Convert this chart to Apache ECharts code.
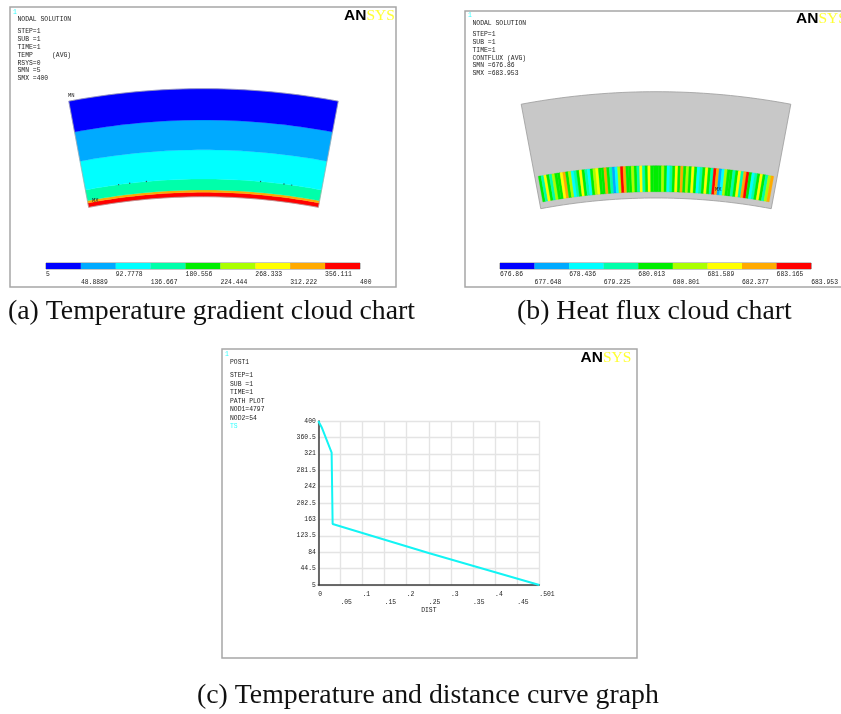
<!DOCTYPE html>
<html>
<head>
<meta charset="utf-8">
<style>
html,body{margin:0;padding:0;background:#fff;overflow:hidden}
#panels,#captions{position:absolute;left:0;top:0;width:841px;height:714px}
#panels{filter:blur(.55px)}
</style>
<script src="https://cdn.jsdelivr.net/npm/echarts@6/dist/echarts.min.js"></script>
</head>
<body>
<div id="panels"></div>
<div id="captions"></div>
<script>
// ---- shared contour palette (nine ANSYS classes)
var contourColors = ['#0000ff','#00aaff','#00ffff','#00ffaa','#00ee00','#aaff00','#ffff00','#ffaa00','#ff0000'];

// ---- panel (a): temperature bands, fraction of wall thickness (0 inner, 1 outer)
var tempBandEdges = [0, 0.041, 0.062, 0.164, 0.434, 0.71, 1];
var tempBandClass = [8, 7, 3, 2, 1, 0];
var meshDotAngles = [97.6, 96.6, 95.1, 84.9, 82.8, 82.1];
var tempLegendLabels = ['5','48.8889','92.7778','136.667','180.556','224.444','268.333','312.222','356.111','400'];
var notesA = ['NODAL SOLUTION','STEP=1','SUB =1','TIME=1','TEMP     (AVG)','RSYS=0','SMN =5','SMX =400'];

// ---- panel (b): heat flux, class of each stripe across the fan, left to right
var fluxStripeClass = [
 4,3,6,4,3,5,4,4,6,7,4,5,2,3,4,6,4,3,2,4,5,6,4,4,7,4,3,1,2,5,8,7,4,4,5,4,3,6,3,4,6,4,4,
 4,4,5,4,2,3,4,6,4,7,4,5,4,6,4,2,3,4,6,4,3,8,7,1,2,5,4,4,3,4,6,3,7,8,4,2,3,4,6,4,3,5,7];
var fluxBandRange = [0.059, 0.304];
var fluxLegendLabels = ['676.86','677.648','678.436','679.225','680.013','680.801','681.589','682.377','683.165','683.953'];
var notesB = ['NODAL SOLUTION','STEP=1','SUB =1','TIME=1','CONTFLUX (AVG)','SMN =676.86','SMX =683.953'];

// ---- panel (c): temperature along the path
var pathDist = [0, 0.0076, 0.0302, 0.0325, 0.25, 0.501];
var pathTemp = [400, 385, 324, 152, 82, 5];
var tempTicks = [5,44.5,84,123.5,163,202.5,242,281.5,321,360.5,400];
var distTicks = [0,0.0501,0.1002,0.1503,0.2004,0.2505,0.3006,0.3507,0.4008,0.4509,0.501];
var distTickLabels = ['0','.05','.1','.15','.2','.25','.3','.35','.4','.45','.501'];
var notesC = ['POST1','STEP=1','SUB =1','TIME=1','PATH PLOT','NOD1=4797','NOD2=54'];

var captions = ['(a) Temperature gradient cloud chart','(b) Heat flux cloud chart','(c) Temperature and distance curve graph'];

var ANGLE_MIN = 79.4, ANGLE_MAX = 100.6;
var MONO = '"Liberation Mono", monospace';

function arcPoints(api, r, a0, a1) {
  var pts = [], n = 40;
  for (var i = 0; i <= n; i++) pts.push(api.coord([r, a0 + (a1 - a0) * i / n]));
  return pts;
}
function fanItem(api, style) {
  var r0 = api.value(0), r1 = api.value(1), a0 = api.value(2), a1 = api.value(3);
  var outer = arcPoints(api, r1, a0, a1), inner = arcPoints(api, r0, a1, a0);
  return {type:'polygon', shape:{points: outer.concat(inner)}, style: style};
}
function renderBand(p, api) {
  return fanItem(api, {fill: contourColors[api.value(4)], stroke: contourColors[api.value(4)], lineWidth: .3});
}
function renderSolid(p, api) {
  return fanItem(api, {fill: '#c8c8c8', stroke: '#9c9c9c', lineWidth: .8});
}
function renderOutline(p, api) {
  return fanItem(api, {fill: 'none', stroke: '#a8a8a8', lineWidth: .7});
}
function renderLegend(p, api) {
  var a = api.coord([api.value(0), 0]), b = api.coord([api.value(0) + 1, 1]);
  return {type:'rect', shape:{x:a[0], y:b[1], width:b[0]-a[0], height:a[1]-b[1]},
          style:{fill: contourColors[api.value(0)]}};
}

var classes = contourColors.map(function(c, i){ return [i]; });
var bandRows = tempBandClass.map(function(c, i){ return [tempBandEdges[i], tempBandEdges[i+1], ANGLE_MIN, ANGLE_MAX, c]; });
var stripeWidth = (ANGLE_MAX - 0.3 - (ANGLE_MIN + 0.3)) / fluxStripeClass.length;
var stripeRows = fluxStripeClass.map(function(c, i){
  // left to right means decreasing polar angle
  var hi = ANGLE_MAX - 0.3 - i * stripeWidth;
  return [fluxBandRange[0], fluxBandRange[1], hi - stripeWidth, hi, c];
});
var fullFan = [[0, 1, ANGLE_MIN, ANGLE_MAX, 0]];

function polarBlock(cx, cy, r0, r1) {
  return {center:[cx, cy], radius:[r0, r1]};
}
function hiddenAngle(i) {
  return {polarIndex:i, type:'value', min:0, max:360, startAngle:0, clockwise:false, show:false,
          splitLine:{show:false}, axisLine:{show:false}, axisTick:{show:false}, axisLabel:{show:false}};
}
function hiddenRadius(i) {
  return {polarIndex:i, type:'value', min:0, max:1, show:false,
          splitLine:{show:false}, axisLine:{show:false}, axisTick:{show:false}, axisLabel:{show:false}};
}
function legendXAxis(gi, labels) {
  return {gridIndex:gi, type:'value', min:0, max:9, interval:1,
    axisLine:{show:false}, axisTick:{show:false}, splitLine:{show:false},
    axisLabel:{show:true, showMinLabel:true, showMaxLabel:true, hideOverlap:false,
      align:'left', margin:1.5, fontFamily:MONO, fontSize:6.4, color:'#222', lineHeight:7.6, verticalAlign:'top',
      formatter:function(v){ return v % 2 ? '\n' + labels[v] : labels[v]; }}};
}
function notesGraphic(lines, x, ys) {
  return lines.map(function(t, i){
    return {type:'text', left:x, top:ys[i]-3, silent:true,
      style:{text:t, fontFamily:MONO, fontSize:6.4, fill:'#1c1c1c'}};
  });
}
function logo(x, y) {
  return {type:'text', left:x, top:y, silent:true, style:{
    text:'{a|AN}{s|SYS}',
    rich:{a:{fontFamily:'"Liberation Sans"',fontWeight:'bold',fontSize:15.5,fill:'#000'},
          s:{fontFamily:'"Liberation Serif"',fontSize:15.5,fill:'#ffff33'}}}};
}
function frame(x, y, w, h) {
  return {type:'rect', shape:{x:x,y:y,width:w,height:h}, silent:true, z:-1,
          style:{fill:'#fff', stroke:'#a6a6a6', lineWidth:1.5}};
}
function marker(t, x, y) {
  return {type:'text', left:x, top:y, silent:true, z:100, style:{text:t, fontFamily:MONO, fontSize:5.5, fill:'#222'}};
}
function cyanTag(t, x, y) {
  return {type:'text', left:x, top:y, silent:true, style:{text:t, fontFamily:MONO, fontSize:6.4, fill:'#33ffff'}};
}

var graphics = [frame(10,7,386,280), frame(465,11,420,276), frame(222,349,415,309)]
  .concat(notesGraphic(notesA, 17.5, [19,31,39,47,55,63,70,78]))
  .concat(notesGraphic(notesB, 472.5, [23.5,34.5,42.5,50.5,58,65.5,73.5]))
  .concat(notesGraphic(notesC, 230, [362,375,384,392,401,409.5,418]))
  .concat([logo(344,8), logo(796,11), logo(580.5,350),
    cyanTag('1',13,9), cyanTag('1',468,12), cyanTag('1',225,351), cyanTag('TS',230,423),
    marker('MN',68,93), marker('MX',92,197.5), marker('MX',715,187)]);

var panels = echarts.init(document.getElementById('panels'), null, {renderer:'canvas'});
panels.setOption({
  animation:false,
  backgroundColor:'#fff',
  graphic:{elements:graphics},
  polar:[polarBlock(203.5,821,624.3,732.3), polarBlock(656,824.5,626.5,732.8)],
  angleAxis:[hiddenAngle(0), hiddenAngle(1)],
  radiusAxis:[hiddenRadius(0), hiddenRadius(1)],
  grid:[
    {left:46, top:263, width:314, height:6, show:true, borderColor:'#8c8c8c', borderWidth:1, backgroundColor:'#ccc'},
    {left:500, top:263, width:312, height:6, show:true, borderColor:'#8c8c8c', borderWidth:1, backgroundColor:'#ccc'},
    {left:318.3, top:421, width:221, height:164}
  ],
  xAxis:[
    legendXAxis(0, tempLegendLabels),
    legendXAxis(1, fluxLegendLabels),
    {gridIndex:2, type:'value', min:0, max:0.501,
     name:'DIST', nameLocation:'middle', nameGap:22,
     nameTextStyle:{fontFamily:MONO, fontSize:6.4, color:'#222'},
     axisLine:{show:true, lineStyle:{color:'#3d3d3d', width:1.5}},
     axisTick:{show:false, customValues:distTicks},
     splitLine:{show:true, lineStyle:{color:'#e4e4e4', width:1.4}},
     axisLabel:{customValues:distTicks, align:'left', margin:5, fontFamily:MONO, fontSize:6.4, color:'#222',
       lineHeight:8, verticalAlign:'top', hideOverlap:false,
       formatter:function(v){ var i = distTicks.indexOf(v); return i % 2 ? '\n' + distTickLabels[i] : distTickLabels[i]; }}}
  ],
  yAxis:[
    {gridIndex:0, type:'value', min:0, max:1, show:false},
    {gridIndex:1, type:'value', min:0, max:1, show:false},
    {gridIndex:2, type:'value', min:5, max:400,
     axisLine:{show:true, lineStyle:{color:'#3d3d3d', width:1.5}},
     axisTick:{show:false, customValues:tempTicks},
     splitLine:{show:true, lineStyle:{color:'#e4e4e4', width:1.4}},
     axisLabel:{customValues:tempTicks, margin:2.5, fontFamily:MONO, fontSize:6.4, color:'#222', hideOverlap:false,
       formatter:function(v){ return String(v); }}}
  ],
  series:[
    {type:'custom', coordinateSystem:'polar', polarIndex:0, renderItem:renderBand, data:bandRows, encode:{radius:0, angle:2}, silent:true},
    {type:'custom', coordinateSystem:'polar', polarIndex:0, renderItem:renderOutline, data:fullFan, encode:{radius:0, angle:2}, silent:true, z:3},
    {type:'scatter', coordinateSystem:'polar', polarIndex:0, symbolSize:1.4, silent:true, z:4, itemStyle:{color:'#333'},
     data:meshDotAngles.map(function(a){ return [tempBandEdges[3], a]; })},
    {type:'custom', coordinateSystem:'polar', polarIndex:1, renderItem:renderSolid, data:fullFan, encode:{radius:0, angle:2}, silent:true},
    {type:'custom', coordinateSystem:'polar', polarIndex:1, renderItem:renderBand, data:stripeRows, encode:{radius:0, angle:2}, silent:true, z:3},
    {type:'custom', coordinateSystem:'cartesian2d', xAxisIndex:0, yAxisIndex:0, renderItem:renderLegend, data:classes, encode:{x:0}, silent:true},
    {type:'custom', coordinateSystem:'cartesian2d', xAxisIndex:1, yAxisIndex:1, renderItem:renderLegend, data:classes, encode:{x:0}, silent:true},
    {type:'line', xAxisIndex:2, yAxisIndex:2, symbol:'none', silent:true, clip:false,
     lineStyle:{color:'#12f4f4', width:2},
     data:pathDist.map(function(d, i){ return [d, pathTemp[i]]; })}
  ]
});

var capChart = echarts.init(document.getElementById('captions'), null, {renderer:'canvas'});
function capStyle(){ return {fontFamily:'"Liberation Serif"', fontSize:27.8, fontWeight:'normal', color:'#111'}; }
capChart.setOption({
  animation:false,
  title:[
    {text:captions[0], left:3, top:293, textStyle:capStyle()},
    {text:captions[1], left:512, top:293, textStyle:capStyle()},
    {text:captions[2], left:192, top:677, textStyle:capStyle()}
  ]
});
</script>
</body>
</html>
